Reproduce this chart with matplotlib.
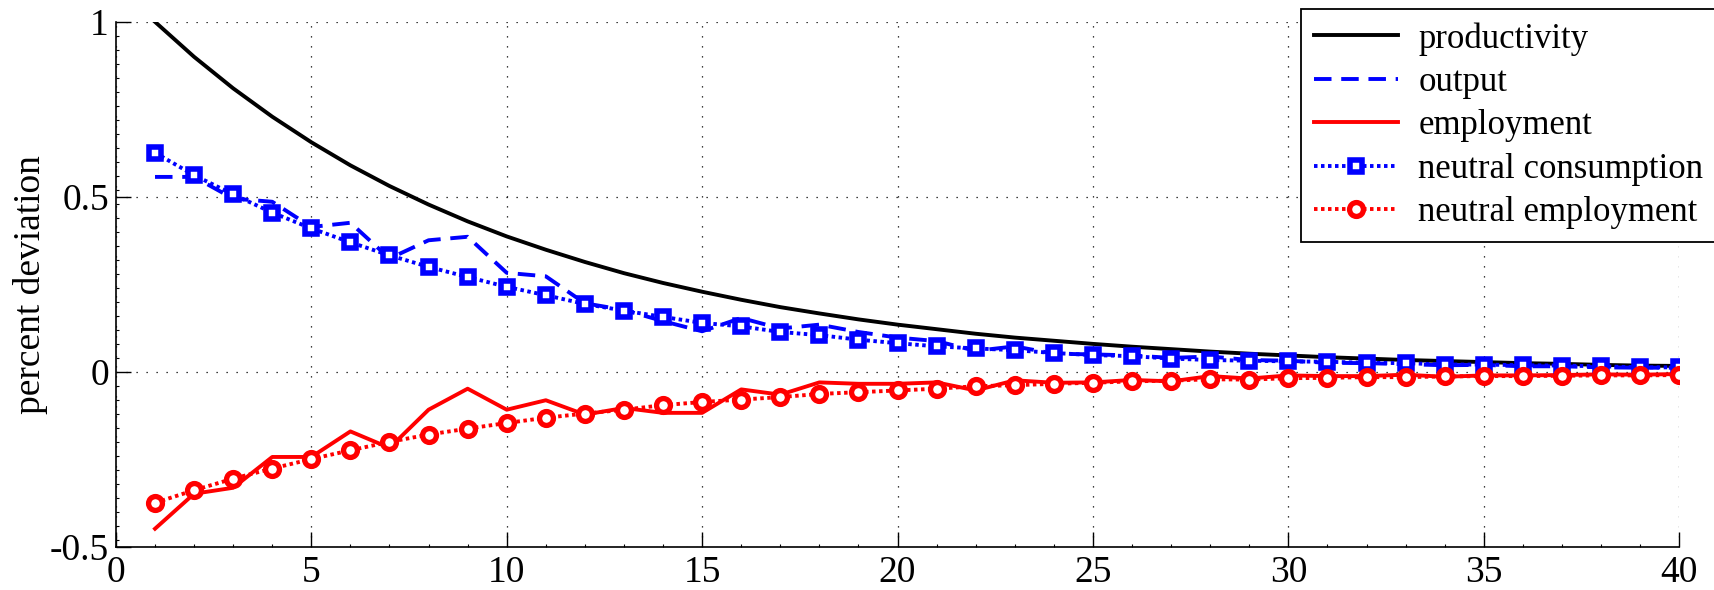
import matplotlib
matplotlib.use("Agg")
import matplotlib.pyplot as plt
from matplotlib.ticker import MultipleLocator

plt.rcParams["font.family"] = ["Liberation Serif", "DejaVu Serif"]
plt.rcParams["axes.unicode_minus"] = False

# quarters after the shock
periods = list(range(1, 41))

productivity = [1.000, 0.900, 0.810, 0.729, 0.656, 0.590, 0.531, 0.478, 0.430, 0.387,
                0.349, 0.314, 0.282, 0.254, 0.229, 0.206, 0.185, 0.167, 0.150, 0.135,
                0.122, 0.109, 0.098, 0.089, 0.080, 0.072, 0.065, 0.058, 0.052, 0.047,
                0.042, 0.038, 0.034, 0.031, 0.028, 0.025, 0.023, 0.020, 0.018, 0.017]

output = [0.557, 0.557, 0.495, 0.486, 0.414, 0.426, 0.324, 0.376, 0.386, 0.283,
          0.273, 0.196, 0.177, 0.145, 0.116, 0.154, 0.124, 0.135, 0.114, 0.098,
          0.088, 0.060, 0.073, 0.052, 0.050, 0.047, 0.040, 0.044, 0.034, 0.032,
          0.026, 0.025, 0.022, 0.019, 0.020, 0.016, 0.016, 0.013, 0.012, 0.012]

employment = [-0.448, -0.348, -0.331, -0.243, -0.243, -0.170, -0.217, -0.108, -0.048, -0.108,
              -0.081, -0.122, -0.103, -0.117, -0.117, -0.050, -0.065, -0.030, -0.034, -0.034,
              -0.030, -0.053, -0.024, -0.031, -0.030, -0.023, -0.027, -0.012, -0.019, -0.010,
              -0.012, -0.012, -0.008, -0.014, -0.010, -0.010, -0.009, -0.007, -0.008, -0.006]

neutral_consumption = [0.626, 0.562, 0.507, 0.455, 0.410, 0.370, 0.333, 0.300, 0.271, 0.243,
                       0.219, 0.194, 0.175, 0.157, 0.140, 0.130, 0.114, 0.105, 0.092, 0.082,
                       0.073, 0.067, 0.062, 0.054, 0.048, 0.045, 0.038, 0.034, 0.032, 0.030,
                       0.029, 0.026, 0.025, 0.021, 0.021, 0.019, 0.018, 0.016, 0.013, 0.013]

neutral_employment = [-0.374, -0.338, -0.305, -0.276, -0.249, -0.224, -0.200, -0.179, -0.162, -0.146,
                      -0.131, -0.119, -0.108, -0.095, -0.086, -0.079, -0.072, -0.063, -0.058, -0.053,
                      -0.048, -0.041, -0.038, -0.034, -0.031, -0.027, -0.025, -0.021, -0.022, -0.018,
                      -0.017, -0.015, -0.015, -0.013, -0.012, -0.012, -0.011, -0.010, -0.010, -0.009]

fig = plt.figure(figsize=(17.15, 5.90), dpi=100)
ax = fig.add_axes([0.0676, 0.073, 0.9115, 0.890])

lw = 2.8
dotted = (0, (0.9, 0.9))
ax.plot(periods, productivity, color="black", lw=lw, label="productivity")
ax.plot(periods, output, color="blue", lw=lw, ls=(0, (4.5, 2.5)), label="output")
ax.plot(periods, employment, color="red", lw=lw, label="employment")
ax.plot(periods, neutral_consumption, color="blue", lw=lw, ls=dotted, marker="s",
        ms=8.5, mfc="white", mec="blue", mew=4.0, label="neutral consumption")
ax.plot(periods, neutral_employment, color="red", lw=lw, ls=dotted, marker="o",
        ms=10, mfc="white", mec="red", mew=3.8, label="neutral employment")

ax.set_xlim(0, 40)
ax.set_ylim(-0.5, 1)
ax.set_xticks(range(0, 41, 5))
ax.set_yticks([-0.5, 0, 0.5, 1])
ax.set_yticklabels(["-0.5", "0", "0.5", "1"])
ax.xaxis.set_minor_locator(MultipleLocator(1))
ax.yaxis.set_minor_locator(MultipleLocator(0.04))
ax.tick_params(which="major", direction="in", length=11, width=1.0,
               labelsize=27, pad=5)
ax.tick_params(which="minor", direction="in", length=2.5, width=0.8)
ax.tick_params(axis="x", pad=6)

for side in ("top", "right"):
    ax.spines[side].set_visible(False)
for side in ("left", "bottom"):
    ax.spines[side].set_linewidth(1.2)

ax.grid(True, which="major", color="black", lw=0.9, ls=(0, (1, 7)))
ax.set_axisbelow(True)

ax.set_ylabel("percent deviation", fontsize=27, labelpad=1)

leg = ax.legend(loc="upper left", bbox_to_anchor=(0.7586, 0.985),
                bbox_transform=fig.transFigure, fontsize=25, frameon=True,
                fancybox=False, framealpha=1, edgecolor="black",
                handlelength=2.4, labelspacing=0.3, borderpad=0.38,
                handletextpad=0.6, borderaxespad=0)
leg.get_frame().set_linewidth(1.3)

fig.savefig("out.png", dpi=100)
